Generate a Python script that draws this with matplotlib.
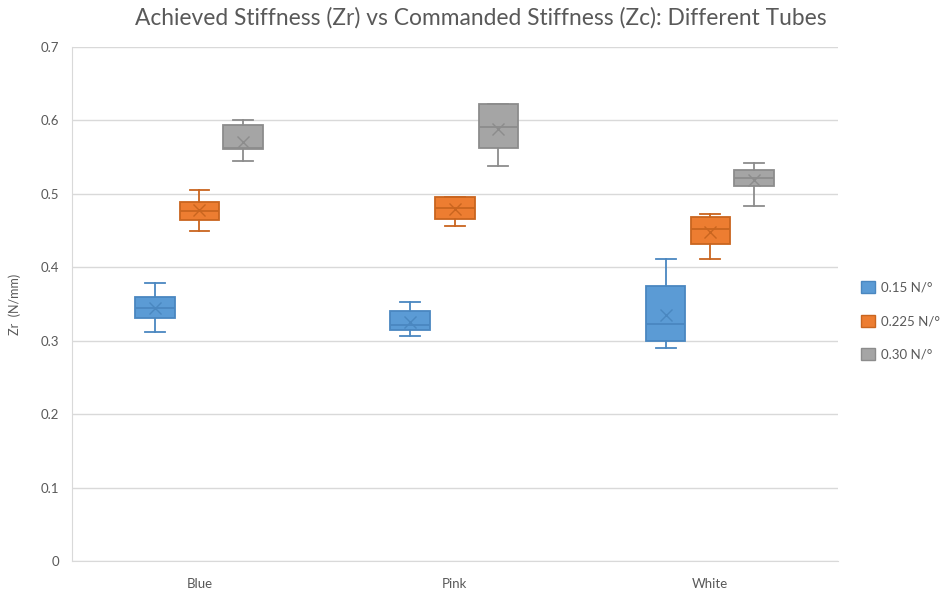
import matplotlib
matplotlib.use("Agg")
import matplotlib.pyplot as plt
import matplotlib.patches as mpatches
import numpy as np

plt.rcParams['font.family'] = ['Lato', 'DejaVu Sans']

categories = ["Blue", "Pink", "White"]
series = ["0.15 N/°", "0.225 N/°", "0.30 N/°"]

# stats per series, per category (Blue, Pink, White)
whislo_015 = [0.312, 0.306, 0.290]
q1_015 = [0.331, 0.315, 0.300]
med_015 = [0.344, 0.322, 0.323]
q3_015 = [0.360, 0.340, 0.374]
whishi_015 = [0.378, 0.352, 0.411]
mean_015 = [0.345, 0.326, 0.335]

whislo_0225 = [0.450, 0.456, 0.411]
q1_0225 = [0.464, 0.466, 0.431]
med_0225 = [0.476, 0.481, 0.452]
q3_0225 = [0.489, 0.495, 0.469]
whishi_0225 = [0.505, 0.495, 0.473]
mean_0225 = [0.478, 0.479, 0.448]

whislo_030 = [0.544, 0.538, 0.483]
q1_030 = [0.561, 0.562, 0.511]
med_030 = [0.563, 0.591, 0.522]
q3_030 = [0.594, 0.622, 0.532]
whishi_030 = [0.600, 0.622, 0.542]
mean_030 = [0.570, 0.588, 0.519]

all_stats = [
    (whislo_015, q1_015, med_015, q3_015, whishi_015, mean_015),
    (whislo_0225, q1_0225, med_0225, q3_0225, whishi_0225, mean_0225),
    (whislo_030, q1_030, med_030, q3_030, whishi_030, mean_030),
]
fills = ["#5B9BD5", "#ED7D31", "#A5A5A5"]
edges = ["#4A87C0", "#C9651F", "#8C8C8C"]

fig = plt.figure(figsize=(9.47, 5.94), dpi=100)
ax = fig.add_axes([0.0757, 0.0556, 0.8093, 0.8654])

offsets = [-0.175, 0.0, 0.17]
width = 0.155
x = np.arange(len(categories))

for s, (lo, q1, med, q3, hi, mn) in enumerate(all_stats):
    stats = []
    for i in range(len(categories)):
        stats.append(dict(whislo=lo[i], q1=q1[i], med=med[i], q3=q3[i],
                          whishi=hi[i], mean=mn[i], fliers=[]))
    ax.bxp(stats, positions=x + offsets[s], widths=width, patch_artist=True,
           showmeans=True, showfliers=False,
           boxprops=dict(facecolor=fills[s], edgecolor=edges[s], linewidth=1.3),
           medianprops=dict(color=edges[s], linewidth=1.3),
           whiskerprops=dict(color=edges[s], linewidth=1.3),
           capprops=dict(color=edges[s], linewidth=1.3),
           capwidths=width * 0.5,
           meanprops=dict(marker='x', markeredgecolor=edges[s], markersize=9,
                          markeredgewidth=1.0),
           manage_ticks=False, zorder=3)

ax.set_xlim(-0.5, len(categories) - 0.5)
ax.set_ylim(0, 0.7)
ax.set_yticks(np.arange(0, 0.71, 0.1))
ax.set_yticklabels(["0", "0.1", "0.2", "0.3", "0.4", "0.5", "0.6", "0.7"])
ax.set_xticks(x)
ax.set_xticklabels(categories)
ax.tick_params(axis='both', length=0, colors="#595959", labelsize=9.5)
ax.tick_params(axis='x', pad=12)
ax.tick_params(axis='y', pad=9)
ax.grid(axis='y', color="#D9D9D9", linewidth=1.0, zorder=0)
ax.set_axisbelow(True)
for sp in ["top", "right"]:
    ax.spines[sp].set_visible(False)
ax.spines["left"].set_color("#D9D9D9")
ax.spines["bottom"].set_color("#D9D9D9")

ax.set_ylabel("Zr  (N/mm)", color="#595959", fontsize=9)
ax.yaxis.set_label_coords(-0.066, 0.5)
fig.text(0.508, 0.970, "Achieved Stiffness (Zr) vs Commanded Stiffness (Zc): Different Tubes",
         color="#595959", fontsize=16.4, ha="center", va="center")

handles = [mpatches.Patch(facecolor=fills[i], edgecolor=edges[i], label=series[i])
           for i in range(3)]
leg = ax.legend(handles=handles, loc="center left", bbox_to_anchor=(1.015, 0.467),
                frameon=False, fontsize=9.5, labelspacing=1.6, handlelength=1.0,
                handleheight=1.0, handletextpad=0.5)
for t in leg.get_texts():
    t.set_color("#595959")

fig.savefig("out.png", dpi=100)
